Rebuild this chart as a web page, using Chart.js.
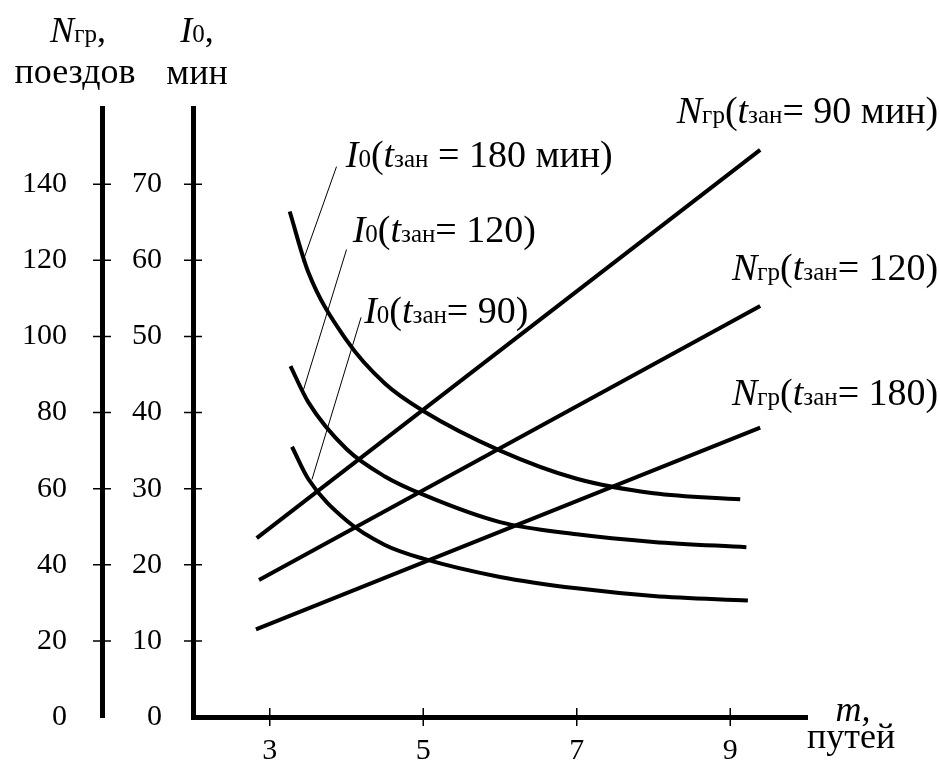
<!DOCTYPE html>
<html>
<head>
<meta charset="utf-8">
<title>Nгр и I0 от m</title>
<script src="https://cdn.jsdelivr.net/npm/chart.js@4.4.1/dist/chart.umd.min.js"></script>
<style>
  body { margin: 0; background: #fff; }
  canvas { display: block; }
</style>
</head>
<body>
<canvas id="chart" width="940" height="762"></canvas>
<script>
// m, путей -- ticks of the horizontal axis
const mTicks = [3, 5, 7, 9];
const i0Ticks = [0, 10, 20, 30, 40, 50, 60, 70];
const nTicks = [0, 20, 40, 60, 80, 100, 120, 140];

// Nгр, поездов (straight lines, left outer axis)
const n90M = [2.83, 9.39];
const n90 = [47, 149];
const n120M = [2.86, 9.39];
const n120 = [36, 108];
const n180M = [2.82, 9.39];
const n180 = [23, 76];

// I0, мин (curves, inner axis)
const i180M = [3.26, 3.5, 4, 4.5, 5, 6, 7, 8, 9.13];
const i180 = [66.4, 58.5, 49.5, 43.8, 40.2, 35.0, 31.3, 29.4, 28.6];
const i120M = [3.27, 3.5, 4, 4.5, 5, 6, 7, 8, 9.21];
const i120 = [46.1, 41.4, 35.2, 31.6, 29.2, 25.6, 24.0, 23.0, 22.3];
const i90M = [3.29, 3.5, 4, 4.5, 5, 6, 7, 8, 9.23];
const i90 = [35.5, 31.3, 25.8, 22.6, 20.8, 18.4, 16.9, 15.9, 15.3];

const SERIF = '"Liberation Serif", "Times New Roman", serif';
const big = '38px ' + SERIF;
const ital = 'italic 38px ' + SERIF;
const small = '25px ' + SERIF;
const title = '36px ' + SERIF;
const titleIt = 'italic 36px ' + SERIF;
const titleSm = '25px ' + SERIF;

function pts(xs, ys) {
    return xs.map((x, i) => ({ x: x, y: ys[i] }));
}

function lineSet(xs, ys, axis, curved) {
    return {
        data: pts(xs, ys),
        yAxisID: axis,
        borderColor: '#000',
        borderWidth: 4,
        pointRadius: 0,
        fill: false,
        cubicInterpolationMode: curved ? 'monotone' : 'default',
        borderCapStyle: 'butt'
    };
}

// draw a label made of pieces in different fonts
function drawRich(ctx, parts, x, y, align) {
    let w = 0;
    parts.forEach(p => { ctx.font = p[1]; w += ctx.measureText(p[0]).width; });
    if (align === 'right') x -= w;
    if (align === 'center') x -= w / 2;
    parts.forEach(p => {
        ctx.font = p[1];
        ctx.fillText(p[0], x, y);
        x += ctx.measureText(p[0]).width;
    });
}

const i0Label = (rest, sp) => [['I', ital], ['0', small], ['(', big], ['t', ital], ['зан', small], [(sp ? ' ' : '') + '= ' + rest, big]];
const nLabel = rest => [['N', ital], ['гр', small], ['(', big], ['t', ital], ['зан', small], ['= ' + rest, big]];

// leader lines, [m1, I0_1, m2, I0_2]
const leaders = [
    [3.87, 72.3, 3.43, 59.8],
    [4.0, 61.4, 3.44, 43.0],
    [4.19, 52.5, 3.55, 31.2]
];

const annotate = {
    id: 'annotate',
    afterDraw(chart) {
        const ctx = chart.ctx;
        const sx = chart.scales.x, sy = chart.scales.y, sn = chart.scales.yN;
        ctx.save();
        ctx.fillStyle = '#000';
        ctx.strokeStyle = '#000';
        ctx.textBaseline = 'alphabetic';

        // tick crosses on the axes
        ctx.lineWidth = 1.5;
        ctx.beginPath();
        mTicks.forEach(v => {
            const px = sx.getPixelForValue(v);
            ctx.moveTo(px, sx.top - 9); ctx.lineTo(px, sx.top + 9);
        });
        i0Ticks.slice(1).forEach(v => {
            const py = sy.getPixelForValue(v);
            ctx.moveTo(sy.right - 9, py); ctx.lineTo(sy.right + 9, py);
        });
        nTicks.slice(1).forEach(v => {
            const py = sn.getPixelForValue(v);
            ctx.moveTo(sn.right - 9, py); ctx.lineTo(sn.right + 9, py);
        });
        ctx.stroke();

        // leader lines
        ctx.lineWidth = 1;
        ctx.beginPath();
        leaders.forEach(l => {
            ctx.moveTo(sx.getPixelForValue(l[0]), sy.getPixelForValue(l[1]));
            ctx.lineTo(sx.getPixelForValue(l[2]), sy.getPixelForValue(l[3]));
        });
        ctx.stroke();

        // curve labels
        drawRich(ctx, i0Label('180 мин)', true), sx.getPixelForValue(3.99), sy.getPixelForValue(72.3), 'left');
        drawRich(ctx, i0Label('120)', false), sx.getPixelForValue(4.08), sy.getPixelForValue(62.4), 'left');
        drawRich(ctx, i0Label('90)', false), sx.getPixelForValue(4.23), sy.getPixelForValue(51.8), 'left');
        drawRich(ctx, nLabel('90 мин)'), sx.getPixelForValue(11.71), sy.getPixelForValue(78.0), 'right');
        drawRich(ctx, nLabel('120)'), sx.getPixelForValue(11.71), sy.getPixelForValue(57.4), 'right');
        drawRich(ctx, nLabel('180)'), sx.getPixelForValue(11.71), sy.getPixelForValue(41.0), 'right');

        // axis titles
        const top = chart.chartArea.top;
        drawRich(ctx, [['N', titleIt], ['гр', titleSm], [',', title]], sn.right - 24, top - 66, 'center');
        drawRich(ctx, [['поездов', title]], sn.right - 27, top - 25, 'center');
        drawRich(ctx, [['I', titleIt], ['0', titleSm], [',', title]], sy.right + 4, top - 66, 'center');
        drawRich(ctx, [['мин', title]], sy.right + 4, top - 24, 'center');
        drawRich(ctx, [['m,', titleIt]], sx.right + 46, sx.top + 4, 'center');
        drawRich(ctx, [['путей', title]], sx.right, sx.top + 31, 'left');
        ctx.restore();
    }
};

const tickFont = { family: SERIF, size: 30 };

new Chart(document.getElementById('chart'), {
    type: 'line',
    data: {
        datasets: [
            lineSet(n90M, n90, 'yN', false),
            lineSet(n120M, n120, 'yN', false),
            lineSet(n180M, n180, 'yN', false),
            lineSet(i180M, i180, 'y', true),
            lineSet(i120M, i120, 'y', true),
            lineSet(i90M, i90, 'y', true)
        ]
    },
    options: {
        responsive: false,
        animation: false,
        devicePixelRatio: 1,
        layout: { padding: { top: 108, right: 133, bottom: 0, left: 0 } },
        plugins: { legend: { display: false }, tooltip: { enabled: false } },
        scales: {
            x: {
                type: 'linear',
                min: 2, max: 10,
                afterBuildTicks: s => { s.ticks = mTicks.map(v => ({ value: v })); },
                afterFit: s => { s.height = 44; },
                grid: { display: false },
                border: { display: true, color: '#000', width: 5 },
                ticks: { color: '#000', font: tickFont, padding: 8, maxRotation: 0 }
            },
            y: {
                position: 'left',
                weight: 0,
                min: 0, max: 80,
                afterBuildTicks: s => { s.ticks = i0Ticks.map(v => ({ value: v })); },
                afterFit: s => { s.width = 91; },
                grid: { display: false },
                border: { display: true, color: '#000', width: 5 },
                ticks: { color: '#000', font: tickFont, padding: 23 }
            },
            yN: {
                position: 'left',
                weight: 1,
                min: 0, max: 160,
                afterBuildTicks: s => { s.ticks = nTicks.map(v => ({ value: v })); },
                afterFit: s => { s.width = 102; },
                grid: { display: false },
                border: { display: true, color: '#000', width: 5 },
                ticks: { color: '#000', font: tickFont, padding: 27 }
            }
        }
    },
    plugins: [annotate]
});
</script>
</body>
</html>
